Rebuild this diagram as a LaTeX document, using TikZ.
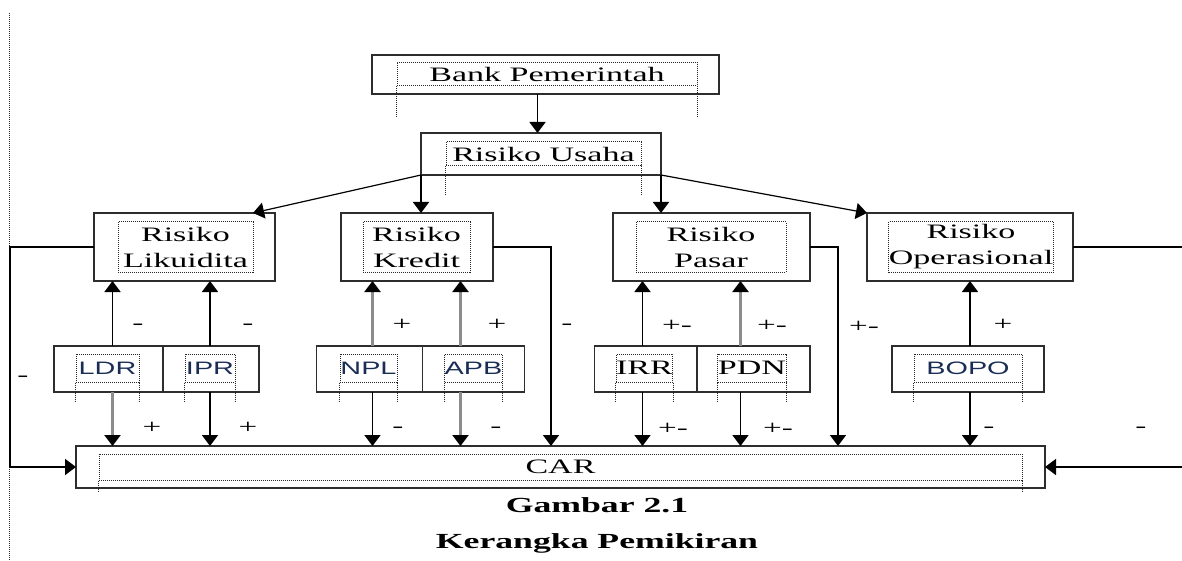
\documentclass[tikz,border=0pt]{standalone}
\usepackage{fontspec}
\setmainfont[FakeStretch=1.66]{Liberation Serif}
\setsansfont[FakeStretch=1.6]{Liberation Sans}
\usetikzlibrary{arrows.meta,positioning}
\definecolor{GarisKotak}{RGB}{45,45,45}
\definecolor{AbuPanah}{RGB}{140,140,140}
\definecolor{TeksBiru}{RGB}{25,45,85}
\newcommand{\hurufbesar}{\fontsize{20.5}{26}\selectfont}
\newcommand{\hurufkecil}{\sffamily\fontsize{18}{20}\selectfont}

\begin{document}
\begin{tikzpicture}[x=1pt, y=-1pt,
    kotak/.style={draw=GarisKotak, line width=1.8pt, inner sep=0pt, outer sep=0pt, minimum height=68pt},
    bingkai/.style={draw=black!85, line width=1pt, dash pattern=on 1pt off 1pt, inner sep=0pt, align=center, font=\hurufbesar},
    bingkaisans/.style={bingkai, font=\hurufkecil, text=TeksBiru, minimum height=28pt},
    kaki/.style={draw=black!85, line width=1pt, dash pattern=on 1pt off 1pt},
    panah/.style={draw=black, line width=1.6pt, -{Triangle[width=16pt,length=11pt]}},
    panahabu/.style={draw=AbuPanah, line width=2.4pt, -{Triangle[width=16pt,length=11pt,color=black,fill=black]}},
    garis/.style={draw=black, line width=1.6pt},
    tanda/.style={inner sep=0pt, font=\fontsize{20}{22}\selectfont},
    judul/.style={inner sep=0pt, font=\bfseries\fontsize{21.5}{24}\selectfont}]
  \useasboundingbox (0,0) rectangle (1182,561);

  % garis titik di kiri
  \draw[kaki] (9,13) -- (9,561);

  % Bank dan Risiko Usaha
  \node[kotak, minimum width=347pt, minimum height=39pt] (bank) at (545.5,74.5) {};
  \node[bingkai, minimum width=300pt, minimum height=23pt] (bankteks) at (547,74) {Bank Pemerintah};
  \node[kotak, minimum width=240pt, minimum height=42pt] (usaha) at (541,154) {};
  \node[bingkai, minimum width=195pt, minimum height=24pt] (usahateks) at (543.5,154) {Risiko Usaha};
  \draw[kaki] (bankteks.south west) -- ++(0,32);
  \draw[kaki] (bankteks.south east) -- ++(0,32);
  \draw[kaki] (usahateks.south west) -- ++(0,30);
  \draw[kaki] (usahateks.south east) -- ++(0,30);

  % jenis risiko
  \node[kotak, minimum width=181pt] (likuid) at (184.5,247) {};
  \node[bingkai, minimum width=135pt, minimum height=50pt] (likuidteks) at (185.5,247) {Risiko\\Likuidita};
  \node[kotak, minimum width=152pt] (kredit) at (417,247) {};
  \node[bingkai, minimum width=107pt, minimum height=50pt] (kreditteks) at (416.5,247) {Risiko\\Kredit};
  \node[kotak, minimum width=197pt] (pasar) at (711.5,247) {};
  \node[bingkai, minimum width=150pt, minimum height=50pt] (pasarteks) at (711,247) {Risiko\\Pasar};
  \node[kotak, minimum width=206pt] (operas) at (970,247) {};
  \node[bingkai, minimum width=158pt, minimum height=51pt] (operasteks) at (971,247) {Risiko\\Operasional};

  % rasio
  \node[kotak, minimum width=109pt, minimum height=46pt] (ldr) at (108.5,369) {};
  \node[bingkaisans, minimum width=63pt] (ldrteks) at (107.5,368) {LDR};
  \node[kotak, minimum width=96pt, minimum height=46pt] (ipr) at (211,369) {};
  \node[bingkaisans, minimum width=50pt] (iprteks) at (210,368) {IPR};
  \node[kotak, minimum width=106pt, minimum height=46pt] (npl) at (369.5,369) {};
  \node[bingkaisans, minimum width=57pt] (nplteks) at (368.5,368) {NPL};
  \node[kotak, minimum width=102pt, minimum height=46pt] (apb) at (473.5,369) {};
  \node[bingkaisans, minimum width=57pt] (apbteks) at (473.5,368) {APB};
  \node[kotak, minimum width=102pt, minimum height=46pt] (irr) at (645.5,369) {};
  \node[bingkai, minimum width=55pt, minimum height=28pt] (irrteks) at (644.5,368) {IRR};
  \node[kotak, minimum width=113pt, minimum height=46pt] (pdn) at (753.5,369) {};
  \node[bingkai, minimum width=68pt, minimum height=28pt] (pdnteks) at (752,368) {PDN};
  \node[kotak, minimum width=152pt, minimum height=46pt] (bopo) at (968,369) {};
  \node[bingkaisans, minimum width=108pt] (bopoteks) at (968,368) {BOPO};
  \foreach \r in {ldr,ipr,npl,apb,irr,pdn,bopo} {
    \draw[kaki] (\r teks.south west) -- ++(0,20);
    \draw[kaki] (\r teks.south east) -- ++(0,20);
  }

  % CAR
  \node[kotak, minimum width=969pt, minimum height=42pt] (car) at (560.5,467) {};
  \node[bingkai, minimum width=923pt, minimum height=26pt] (carteks) at (560.5,467) {CAR};
  \draw[kaki] (carteks.south west) -- ++(0,12);
  \draw[kaki] (carteks.south east) -- ++(0,12);

  \node[judul] (gambar) at (597,505) {Gambar 2.1};
  \node[judul] (kerangka) at (597,543) {Kerangka Pemikiran};

  % panah atas
  \draw[panah] ([xshift=-8pt]bank.south) -- ([xshift=-8pt]bank.south |- usaha.north);
  \draw[panah, line width=1.2pt] (usaha.south west) -- ([xshift=-22pt]likuid.north east);
  \draw[panah] (usaha.south west) -- (usaha.south west |- kredit.north);
  \draw[panah] (usaha.south east) -- (usaha.south east |- pasar.north);
  \draw[panah, line width=1.2pt] (usaha.south east) -- (operas.north west);

  % rasio ke risiko dan ke CAR
  \foreach \k/\t/\dx/\naik/\turun in {ldr/likuid/4/panah/panahabu, ipr/likuid/-1/panah/panah,
      npl/kredit/3/panahabu/panah, apb/kredit/-13/panahabu/panahabu, irr/pasar/-3/panah/panah,
      pdn/pasar/-13/panahabu/panah, bopo/operas/2/panah/panah} {
    \draw[\naik] ([xshift=\dx pt]\k.north) -- ([xshift=\dx pt]\k.north |- \t.south);
    \draw[\turun] ([xshift=\dx pt]\k.south) -- ([xshift=\dx pt]\k.south |- car.north);
  }

  % risiko langsung ke CAR
  \coordinate (kk) at (551,0);
  \coordinate (pk) at (838,0);
  \coordinate (kiri) at (10,0);
  \coordinate (kanan) at (1182,0);
  \draw[panah] (kredit.east) -| (kk |- car.north);
  \draw[panah] (pasar.east) -| (pk |- car.north);
  \draw[panah] (likuid.west) -| (kiri |- car.west) -- (car.west);
  \draw[garis] (operas.east) -- (operas.east -| kanan);
  \draw[panah] (kanan |- car.east) -- (car.east);

  % tanda pengaruh
  \foreach \x/\y/\s [count=\i] in {138/327/-, 248/327/-, 402/325/+, 497/325/+, 567/327/-,
      677/326/+-, 772/326/+-, 864/327/+-, 1003/325/+, 23/379/-,
      152/428/+, 248/428/+, 398/430/-, 496/430/-, 673/429/+-, 778/429/+-, 989/430/-, 1141/430/-} {
    \node[tanda] (tanda\i) at (\x,\y) {\s};
  }
\end{tikzpicture}
\end{document}
